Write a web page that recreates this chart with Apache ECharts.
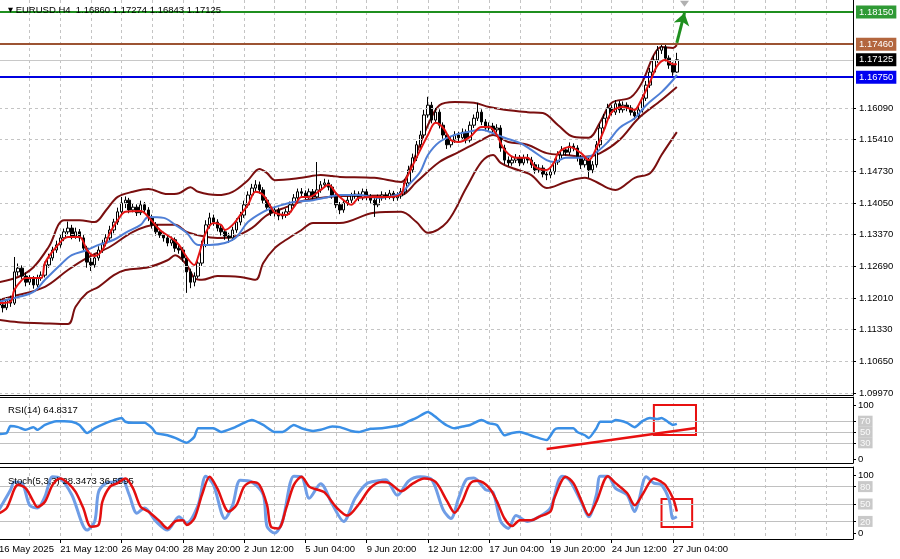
<!DOCTYPE html>
<html><head><meta charset="utf-8">
<script src="https://cdn.jsdelivr.net/npm/echarts@6/dist/echarts.min.js"></script>
<style>html,body{margin:0;padding:0;background:#fff}#c{width:900px;height:559px}</style>
</head><body><div id="c"></div>
<script>
// ---------- DATA ----------
const slotCount = 224; // bar slots on the time axis (178 bars + empty shift area)
const tickLabels = ["16 May 2025","21 May 12:00","26 May 04:00","28 May 20:00","2 Jun 12:00","5 Jun 04:00","9 Jun 20:00","12 Jun 12:00","17 Jun 04:00","19 Jun 20:00","24 Jun 12:00","27 Jun 04:00"];
const priceTicks = [1.0997,1.1065,1.1133,1.1201,1.1269,1.1337,1.1405,1.1473,1.1541,1.1609];
const levelPrices = [1.1815, 1.1746, 1.17125, 1.1675];
const levelTexts = ["1.18150", "1.17460", "1.17125", "1.16750"];

const opens = [1.1197,1.1186,1.1180,1.1197,1.1190,1.1257,1.1265,1.1248,1.1235,1.1242,1.1229,1.1244,1.1250,1.1272,1.1287,1.1304,1.1315,1.1330,1.1343,1.1351,1.1334,1.1343,1.1330,1.1308,1.1278,1.1272,1.1287,1.1304,1.1319,1.1330,1.1347,1.1364,1.1386,1.1405,1.1411,1.1390,1.1396,1.1384,1.1401,1.1390,1.1373,1.1358,1.1343,1.1336,1.1330,1.1319,1.1326,1.1308,1.1304,1.1287,1.1257,1.1235,1.1248,1.1276,1.1315,1.1358,1.1373,1.1364,1.1351,1.1343,1.1334,1.1330,1.1347,1.1364,1.1379,1.1401,1.1422,1.1437,1.1444,1.1433,1.1411,1.1396,1.1384,1.1390,1.1377,1.1379,1.1386,1.1401,1.1416,1.1429,1.1426,1.1420,1.1429,1.1418,1.1433,1.1444,1.1448,1.1439,1.1422,1.1401,1.1390,1.1405,1.1411,1.1420,1.1424,1.1416,1.1429,1.1418,1.1411,1.1401,1.1416,1.1422,1.1418,1.1426,1.1416,1.1420,1.1429,1.1448,1.1476,1.1502,1.1530,1.1551,1.1594,1.1615,1.1583,1.1600,1.1572,1.1551,1.1530,1.1540,1.1551,1.1545,1.1557,1.1540,1.1572,1.1587,1.1600,1.1579,1.1566,1.1570,1.1562,1.1566,1.1523,1.1497,1.1491,1.1497,1.1502,1.1491,1.1502,1.1497,1.1487,1.1476,1.1480,1.1467,1.1465,1.1472,1.1493,1.1508,1.1519,1.1514,1.1527,1.1523,1.1502,1.1487,1.1497,1.1476,1.1487,1.1530,1.1566,1.1587,1.1609,1.1600,1.1618,1.1605,1.1615,1.1609,1.1600,1.1592,1.1605,1.1630,1.1658,1.1686,1.1712,1.1733,1.1740,1.1716,1.1701,1.1686];
const closes = [1.1186,1.1180,1.1197,1.1190,1.1257,1.1265,1.1248,1.1235,1.1242,1.1229,1.1244,1.1250,1.1272,1.1287,1.1304,1.1315,1.1330,1.1343,1.1351,1.1334,1.1343,1.1330,1.1308,1.1278,1.1272,1.1287,1.1304,1.1319,1.1330,1.1347,1.1364,1.1386,1.1405,1.1411,1.1390,1.1396,1.1384,1.1401,1.1390,1.1373,1.1358,1.1343,1.1336,1.1330,1.1319,1.1326,1.1308,1.1304,1.1287,1.1257,1.1235,1.1248,1.1276,1.1315,1.1358,1.1373,1.1364,1.1351,1.1343,1.1334,1.1330,1.1347,1.1364,1.1379,1.1401,1.1422,1.1437,1.1444,1.1433,1.1411,1.1396,1.1384,1.1390,1.1377,1.1379,1.1386,1.1401,1.1416,1.1429,1.1426,1.1420,1.1429,1.1418,1.1433,1.1444,1.1448,1.1439,1.1422,1.1401,1.1390,1.1405,1.1411,1.1420,1.1424,1.1416,1.1429,1.1418,1.1411,1.1401,1.1416,1.1422,1.1418,1.1426,1.1416,1.1420,1.1429,1.1448,1.1476,1.1502,1.1530,1.1551,1.1594,1.1615,1.1583,1.1600,1.1572,1.1551,1.1530,1.1540,1.1551,1.1545,1.1557,1.1540,1.1572,1.1587,1.1600,1.1579,1.1566,1.1570,1.1562,1.1566,1.1523,1.1497,1.1491,1.1497,1.1502,1.1491,1.1502,1.1497,1.1487,1.1476,1.1480,1.1467,1.1465,1.1472,1.1493,1.1508,1.1519,1.1514,1.1527,1.1523,1.1502,1.1487,1.1497,1.1476,1.1487,1.1530,1.1566,1.1587,1.1609,1.1600,1.1618,1.1605,1.1615,1.1609,1.1600,1.1592,1.1605,1.1630,1.1658,1.1686,1.1712,1.1733,1.1740,1.1716,1.1701,1.1686,1.17125];
const highs = [1.1205,1.1194,1.1203,1.1206,1.1289,1.1275,1.1271,1.1256,1.1250,1.1248,1.1251,1.1258,1.1279,1.1296,1.1311,1.1324,1.1338,1.1350,1.1365,1.1358,1.1352,1.1349,1.1336,1.1313,1.1287,1.1294,1.1312,1.1326,1.1338,1.1356,1.1371,1.1395,1.1418,1.1419,1.1416,1.1404,1.1402,1.1410,1.1407,1.1396,1.1380,1.1364,1.1350,1.1343,1.1336,1.1333,1.1331,1.1315,1.1310,1.1292,1.1264,1.1256,1.1284,1.1324,1.1368,1.1384,1.1380,1.1370,1.1358,1.1349,1.1341,1.1354,1.1372,1.1386,1.1410,1.1430,1.1446,1.1454,1.1451,1.1439,1.1417,1.1402,1.1397,1.1395,1.1386,1.1393,1.1408,1.1424,1.1436,1.1437,1.1432,1.1436,1.1435,1.1493,1.1452,1.1457,1.1455,1.1445,1.1428,1.1407,1.1412,1.1419,1.1427,1.1432,1.1430,1.1436,1.1435,1.1424,1.1417,1.1423,1.1430,1.1428,1.1433,1.1431,1.1428,1.1437,1.1456,1.1485,1.1511,1.1538,1.1560,1.1605,1.1633,1.1622,1.1609,1.1606,1.1578,1.1557,1.1548,1.1559,1.1558,1.1565,1.1563,1.1580,1.1595,1.1620,1.1606,1.1585,1.1578,1.1577,1.1574,1.1572,1.1530,1.1505,1.1506,1.1510,1.1508,1.1509,1.1510,1.1504,1.1493,1.1488,1.1486,1.1473,1.1480,1.1500,1.1516,1.1527,1.1525,1.1535,1.1533,1.1529,1.1508,1.1505,1.1502,1.1495,1.1538,1.1575,1.1596,1.1618,1.1615,1.1626,1.1624,1.1623,1.1621,1.1615,1.1607,1.1613,1.1638,1.1667,1.1695,1.1722,1.1742,1.1746,1.1745,1.1722,1.1707,1.17274];
const lows = [1.1178,1.1170,1.1175,1.1182,1.1186,1.1249,1.1242,1.1226,1.1229,1.1221,1.1224,1.1238,1.1245,1.1266,1.1281,1.1298,1.1309,1.1323,1.1336,1.1327,1.1328,1.1322,1.1301,1.1266,1.1259,1.1266,1.1281,1.1298,1.1312,1.1324,1.1340,1.1358,1.1380,1.1394,1.1383,1.1385,1.1377,1.1379,1.1382,1.1366,1.1350,1.1335,1.1330,1.1322,1.1312,1.1313,1.1300,1.1296,1.1279,1.1212,1.1222,1.1226,1.1243,1.1270,1.1310,1.1350,1.1356,1.1344,1.1335,1.1326,1.1319,1.1324,1.1341,1.1357,1.1373,1.1395,1.1416,1.1430,1.1425,1.1404,1.1388,1.1377,1.1376,1.1368,1.1370,1.1373,1.1380,1.1395,1.1410,1.1420,1.1413,1.1414,1.1411,1.1412,1.1427,1.1438,1.1432,1.1414,1.1394,1.1381,1.1384,1.1399,1.1405,1.1414,1.1409,1.1411,1.1411,1.1404,1.1375,1.1396,1.1410,1.1412,1.1413,1.1409,1.1410,1.1414,1.1423,1.1442,1.1470,1.1495,1.1523,1.1545,1.1588,1.1576,1.1577,1.1565,1.1543,1.1521,1.1524,1.1534,1.1538,1.1540,1.1533,1.1535,1.1566,1.1581,1.1572,1.1559,1.1560,1.1555,1.1556,1.1515,1.1488,1.1484,1.1485,1.1491,1.1484,1.1486,1.1490,1.1480,1.1468,1.1470,1.1460,1.1454,1.1458,1.1466,1.1487,1.1501,1.1507,1.1508,1.1516,1.1494,1.1478,1.1481,1.1459,1.1469,1.1481,1.1524,1.1560,1.1581,1.1593,1.1594,1.1598,1.1599,1.1602,1.1593,1.1584,1.1586,1.1599,1.1624,1.1652,1.1680,1.1706,1.1725,1.1709,1.1693,1.1678,1.16843];

// moving averages and bands: [bar index, price]
const fastMA = [[0,1.1190],[3,1.1193],[4,1.1218],[6,1.1240],[7,1.1244],[11,1.1244],[12,1.1276],[15,1.1311],[18,1.1332],[21,1.1332],[23,1.1304],[25,1.1291],[27,1.1304],[29,1.1341],[31,1.1368],[33,1.1386],[37,1.1388],[39,1.1375],[42,1.1347],[45,1.1330],[47,1.1315],[49,1.1289],[51,1.1272],[52,1.1289],[54,1.1341],[56,1.1362],[58,1.1358],[59,1.1347],[61,1.1358],[63,1.1379],[65,1.1401],[67,1.1429],[69,1.1422],[71,1.1396],[72,1.1384],[75,1.1379],[77,1.1396],[79,1.1418],[81,1.1418],[84,1.1433],[86,1.1444],[88,1.1426],[90,1.1411],[92,1.1401],[94,1.1416],[98,1.1418],[102,1.1418],[105,1.1424],[106,1.1450],[109,1.1502],[112,1.1551],[114,1.1577],[116,1.1566],[118,1.1540],[120,1.1536],[123,1.1547],[126,1.1568],[128,1.1568],[130,1.1551],[132,1.1519],[135,1.1502],[138,1.1502],[140,1.1482],[143,1.1476],[145,1.1493],[146,1.1512],[149,1.1525],[152,1.1512],[154,1.1497],[156,1.1523],[158,1.1562],[160,1.1600],[163,1.1611],[166,1.1605],[167,1.1615],[170,1.1665],[172,1.1701],[174,1.1712],[176,1.1703],[177,1.1703]];
const slowMA = [[0,1.1193],[5,1.1203],[9,1.1214],[12,1.1240],[16,1.1272],[19,1.1293],[23,1.1304],[26,1.1315],[30,1.1326],[33,1.1341],[37,1.1358],[39,1.1375],[43,1.1373],[46,1.1358],[49,1.1341],[52,1.1315],[55,1.1315],[59,1.1319],[62,1.1332],[65,1.1364],[69,1.1386],[72,1.1396],[77,1.1407],[82,1.1411],[85,1.1416],[89,1.1422],[94,1.1422],[99,1.1416],[105,1.1426],[107,1.1444],[110,1.1472],[112,1.1508],[115,1.1536],[119,1.1551],[122,1.1557],[126,1.1562],[129,1.1555],[132,1.1545],[136,1.1534],[139,1.1519],[143,1.1497],[145,1.1493],[148,1.1502],[152,1.1502],[155,1.1508],[159,1.1536],[162,1.1566],[166,1.1587],[169,1.1615],[173,1.1643],[176,1.1669],[177,1.1680]];
const bandUpper = [[0,1.1235],[5,1.1246],[9,1.1267],[13,1.1311],[17,1.1368],[21,1.1368],[25,1.1364],[28,1.1390],[31,1.1418],[35,1.1429],[39,1.1435],[44,1.1424],[47,1.1426],[50,1.1439],[52,1.1429],[57,1.1422],[61,1.1429],[65,1.1454],[68,1.1478],[70,1.1469],[72,1.1454],[79,1.1459],[84,1.1465],[87,1.1463],[89,1.1461],[98,1.1459],[105,1.1450],[108,1.1493],[112,1.1572],[115,1.1615],[119,1.1622],[124,1.1620],[128,1.1611],[132,1.1605],[138,1.1600],[142,1.1598],[146,1.1572],[150,1.1547],[154,1.1545],[157,1.1579],[160,1.1620],[165,1.1632],[168,1.1665],[171,1.1723],[173,1.1740],[176,1.1738],[177,1.1744]];
const bandMiddle = [[0,1.1197],[3,1.1203],[12,1.1225],[18,1.1261],[23,1.1287],[29,1.1311],[35,1.1343],[41,1.1358],[46,1.1358],[49,1.1343],[53,1.1334],[57,1.1330],[61,1.1332],[66,1.1351],[70,1.1379],[75,1.1396],[80,1.1411],[86,1.1418],[90,1.1420],[105,1.1422],[109,1.1450],[115,1.1493],[120,1.1514],[126,1.1540],[129,1.1551],[133,1.1536],[138,1.1530],[143,1.1512],[148,1.1508],[153,1.1504],[157,1.1512],[162,1.1540],[167,1.1587],[173,1.1626],[177,1.1654]];
const bandLower = [[0,1.1154],[5,1.1149],[11,1.1147],[18,1.1145],[20,1.1182],[23,1.1212],[26,1.1225],[30,1.1250],[33,1.1261],[39,1.1267],[44,1.1282],[46,1.1293],[49,1.1272],[51,1.1244],[53,1.1240],[57,1.1248],[63,1.1246],[67,1.1240],[69,1.1276],[72,1.1308],[75,1.1326],[79,1.1347],[82,1.1362],[89,1.1362],[98,1.1384],[105,1.1386],[109,1.1364],[112,1.1341],[117,1.1364],[122,1.1437],[126,1.1493],[129,1.1508],[131,1.1491],[134,1.1480],[139,1.1465],[143,1.1437],[148,1.1450],[153,1.1459],[156,1.1450],[159,1.1437],[161,1.1433],[166,1.1459],[170,1.1469],[173,1.1508],[177,1.1557]];

const rsi = [[0,46],[2,48],[3,61],[5,59],[7,54],[9,59],[10,54],[12,63],[15,70],[17,70],[19,69],[21,63],[23,48],[25,57],[28,67],[30,72],[32,76],[33,69],[35,67],[38,67],[40,57],[41,48],[44,44],[46,39],[49,30],[51,41],[52,57],[56,57],[58,50],[61,57],[64,67],[66,72],[69,63],[72,50],[74,50],[77,63],[79,57],[82,52],[84,54],[87,60],[89,59],[92,52],[94,50],[97,56],[100,57],[103,60],[105,63],[107,70],[109,76],[112,87],[114,78],[115,72],[117,62],[119,57],[121,60],[123,63],[126,72],[128,66],[130,63],[132,44],[134,48],[136,50],[138,46],[140,41],[143,35],[145,54],[146,57],[148,57],[150,57],[151,50],[153,44],[154,39],[156,57],[157,69],[160,69],[161,72],[164,67],[166,59],[168,70],[170,76],[172,74],[173,76],[175,67],[176,63],[177,65]];
const stochK = [[0,40],[3,74],[4,88],[6,86],[8,48],[10,43],[12,63],[14,97],[16,94],[19,66],[23,5],[25,20],[26,71],[28,86],[30,88],[32,94],[34,66],[36,34],[38,43],[41,20],[44,5],[47,28],[49,17],[52,48],[54,98],[56,83],[59,25],[61,48],[63,91],[66,88],[69,66],[70,11],[72,0],[74,20],[77,98],[79,97],[81,60],[84,85],[87,50],[90,20],[93,60],[96,85],[99,90],[101,92],[104,65],[107,90],[110,97],[113,92],[116,40],[118,25],[120,60],[122,92],[124,95],[127,75],[129,70],[131,20],[133,8],[135,30],[138,20],[141,28],[144,43],[146,88],[147,98],[149,91],[152,54],[154,28],[156,66],[157,98],[159,98],[161,77],[164,66],[166,37],[167,54],[169,97],[171,86],[173,83],[175,57],[176,25],[177,28]];
const stochD = [[0,34],[2,43],[5,83],[7,77],[9,54],[10,45],[12,54],[14,83],[16,94],[18,86],[20,71],[22,43],[24,11],[26,14],[27,54],[29,80],[31,86],[33,94],[35,77],[37,45],[39,37],[42,20],[44,8],[46,20],[48,22],[49,14],[51,25],[53,66],[55,97],[57,77],[60,37],[62,48],[64,80],[66,88],[68,83],[70,48],[71,11],[73,8],[75,43],[77,83],[79,97],[81,80],[83,75],[85,70],[88,45],[91,30],[94,50],[97,78],[100,88],[102,86],[105,72],[108,85],[111,94],[114,88],[117,55],[119,35],[121,55],[123,85],[125,90],[128,78],[130,55],[132,25],[134,12],[136,22],[139,22],[141,28],[144,37],[145,60],[148,97],[150,86],[152,57],[154,31],[156,54],[159,98],[161,86],[164,69],[166,48],[168,66],[171,94],[173,88],[174,83],[176,60],[177,37]];

// ---------- CHART ----------
const FONT = 'Liberation Sans';
const categories = Array.from({length: slotCount}, (_, i) => String(i));
const candles = opens.map((o, i) => [o, closes[i], lows[i], highs[i]]);
const isLabelTick = (i) => i % 16 === 0 && i <= 176;
const gridLineStyle = {color: '#c4c4c4', type: [3, 3], width: 1};

function xAxisFor(gi, bottom) {
  return {
    type: 'category', gridIndex: gi, data: categories, boundaryGap: false, position: 'bottom',
    axisLine: {show: true, onZero: false, lineStyle: {color: '#000', width: 1}},
    axisTick: {show: bottom, interval: isLabelTick, length: 4, lineStyle: {color: '#000'}},
    axisLabel: {show: bottom, interval: isLabelTick, formatter: (v, i) => tickLabels[i / 16] || '',
      align: 'left', margin: 5, fontSize: 9.5, color: '#000', fontFamily: FONT},
    splitLine: {show: true, interval: (i) => i % 8 === 0, lineStyle: gridLineStyle}
  };
}
function topBorder(gi) {
  return {type: 'category', gridIndex: gi, position: 'top', data: categories, boundaryGap: false,
    axisLine: {show: true, onZero: false, lineStyle: {color: '#000', width: 1}}, axisTick: {show: false},
    axisLabel: {show: false}, splitLine: {show: false}};
}
const boxRich = {
  p: {color: '#000', fontSize: 9.5, fontFamily: FONT},
  b: {color: '#fafafa', backgroundColor: '#c9c9c9', fontSize: 9.5, fontFamily: FONT, padding: [1, 2, 0, 2]}
};
function levelAxis(gi, min, max, vals, boxed) {
  return {
    type: 'value', gridIndex: gi, position: 'right', min: min, max: max,
    axisLine: {show: true, onZero: false, lineStyle: {color: '#000'}},
    axisTick: {show: true, customValues: vals, length: 3, lineStyle: {color: '#000'}},
    axisLabel: {customValues: vals, margin: 5, rich: boxRich,
      formatter: (v) => boxed.indexOf(v) >= 0 ? '{b|' + v + '}' : '{p|' + v + '}'},
    splitLine: {show: false}
  };
}
function levels(vals) {
  return {silent: true, precision: 6, symbol: ['none', 'none'], label: {show: false},
    lineStyle: {color: '#c0c0c0', type: 'solid', width: 1},
    data: vals.map(v => ({yAxis: v}))};
}
// one horizontal price level with its price tag on the axis
function levelSeries(k, lineColor, bg, width) {
  return {type: 'line', xAxisIndex: 0, yAxisIndex: 0, data: [], silent: true, z: 2,
    markLine: {silent: true, precision: 6, symbol: ['none', 'none'],
      lineStyle: {color: lineColor, width: width, type: 'solid'},
      label: {show: true, position: 'end', formatter: levelTexts[k], distance: 3, color: '#fff',
        backgroundColor: bg, padding: [2, 3, 1, 3], fontSize: 9.5, fontFamily: FONT},
      data: [{yAxis: levelPrices[k]}]}};
}
const gridBase = {left: -1, width: 854, containLabel: false, outerBoundsMode: 'none'};

const chart = echarts.init(document.getElementById('c'), null, {renderer: 'canvas'});
chart.setOption({
  animation: false,
  backgroundColor: '#fff',
  title: [
    {left: 3, top: 0, text: '{t|▼} EURUSD.H4  1.16860 1.17274 1.16843 1.17125',
      textStyle: {fontSize: 9.5, fontWeight: 'normal', color: '#000', fontFamily: FONT,
        rich: {t: {fontSize: 6.5, color: '#000', fontFamily: 'DejaVu Sans'}}}},
    {left: 3, top: 400, text: 'RSI(14) 64.8317', textStyle: {fontSize: 9.5, fontWeight: 'normal', color: '#000', fontFamily: FONT}},
    {left: 3, top: 471, text: 'Stoch(5,3,3) 28.3473 36.5595', textStyle: {fontSize: 9.5, fontWeight: 'normal', color: '#000', fontFamily: FONT}}
  ],
  grid: [
    Object.assign({top: 0, height: 395}, gridBase),
    Object.assign({top: 397, height: 66}, gridBase),
    Object.assign({top: 467, height: 72}, gridBase)
  ],
  xAxis: [xAxisFor(0, false), xAxisFor(1, false), xAxisFor(2, true), topBorder(1), topBorder(2)],
  yAxis: [
    {type: 'value', gridIndex: 0, position: 'right', min: 1.09927, max: 1.18408,
      axisLine: {show: true, onZero: false, lineStyle: {color: '#000'}},
      axisTick: {show: true, customValues: priceTicks, length: 3, lineStyle: {color: '#000'}},
      axisLabel: {customValues: priceTicks, formatter: (v) => v.toFixed(5), margin: 6, fontSize: 9.5, color: '#000', fontFamily: FONT},
      splitLine: {show: false}},
    levelAxis(1, -7.4, 114.8, [0, 30, 50, 70, 100], [30, 50, 70]),
    levelAxis(2, -10.3, 113.8, [0, 20, 50, 80, 100], [20, 50, 80])
  ],
  series: [
    {type: 'line', xAxisIndex: 0, yAxisIndex: 0, data: [], silent: true, z: 1,
      markLine: {silent: true, precision: 6, symbol: ['none', 'none'], label: {show: false}, lineStyle: gridLineStyle,
        data: priceTicks.map(v => ({yAxis: v}))}},
    levelSeries(0, '#1f8f1f', '#2f9a35', 2),
    levelSeries(1, '#9c5333', '#b3663e', 2),
    levelSeries(2, '#c8c8c8', '#000000', 1),
    levelSeries(3, '#0000e0', '#0000f0', 2),
    {type: 'line', name: 'bandUpper', xAxisIndex: 0, yAxisIndex: 0, data: bandUpper, smooth: 0.35, showSymbol: false, lineStyle: {color: '#7a0f0f', width: 2}, z: 3},
    {type: 'line', name: 'bandMiddle', xAxisIndex: 0, yAxisIndex: 0, data: bandMiddle, smooth: 0.35, showSymbol: false, lineStyle: {color: '#7a0f0f', width: 2}, z: 3},
    {type: 'line', name: 'bandLower', xAxisIndex: 0, yAxisIndex: 0, data: bandLower, smooth: 0.35, showSymbol: false, lineStyle: {color: '#7a0f0f', width: 2}, z: 3},
    {type: 'candlestick', xAxisIndex: 0, yAxisIndex: 0, data: candles, barWidth: 3, z: 4,
      itemStyle: {color: '#ffffff', color0: '#000000', borderColor: '#000000', borderColor0: '#000000', borderWidth: 1}},
    {type: 'line', xAxisIndex: 0, yAxisIndex: 0, data: [], silent: true, z: 8,
      markLine: {silent: true, precision: 6, symbol: ['none', 'arrow'], symbolSize: 12, label: {show: false},
        lineStyle: {color: '#1f8f1f', width: 3, type: 'solid'},
        data: [[{coord: [177.3, 1.1749]}, {coord: [178.9, 1.1813]}]]},
      markPoint: {silent: true, data: [{coord: [178.5, 1.1833], symbol: 'triangle', symbolRotate: 180, symbolSize: [9, 6], itemStyle: {color: '#b0b0b0'}, label: {show: false}}]}},
    {type: 'line', name: 'slowMA', xAxisIndex: 0, yAxisIndex: 0, data: slowMA, smooth: 0.35, showSymbol: false, lineStyle: {color: '#4f7fd6', width: 2}, z: 5},
    {type: 'line', name: 'fastMA', xAxisIndex: 0, yAxisIndex: 0, data: fastMA, smooth: 0.35, showSymbol: false, lineStyle: {color: '#e31515', width: 2}, z: 6},

    {type: 'line', name: 'RSI', xAxisIndex: 1, yAxisIndex: 1, data: rsi, smooth: 0.2, showSymbol: false, lineStyle: {color: '#3a8fe6', width: 2.5}, z: 5,
      markLine: levels([30, 50, 70])},
    {type: 'line', xAxisIndex: 1, yAxisIndex: 1, data: [], z: 6,
      markLine: {silent: true, precision: 6, symbol: ['none', 'none'], label: {show: false}, lineStyle: {color: '#e81010', width: 2.5, type: 'solid'},
        data: [[{coord: [143.3, 18.5]}, {coord: [182.2, 57.4]}]]},
      markArea: {silent: true, itemStyle: {color: 'rgba(0,0,0,0)', borderColor: '#e81010', borderWidth: 2},
        data: [[{coord: [170.5, 100]}, {coord: [182.2, 44.4]}]]}},

    {type: 'line', name: '%K', xAxisIndex: 2, yAxisIndex: 2, data: stochK, smooth: 0.3, showSymbol: false, lineStyle: {color: '#6f9de6', width: 3}, z: 5,
      markLine: levels([20, 50, 80])},
    {type: 'line', name: '%D', xAxisIndex: 2, yAxisIndex: 2, data: stochD, smooth: 0.3, showSymbol: false, lineStyle: {color: '#e30f0f', width: 2.5}, z: 6,
      markArea: {silent: true, itemStyle: {color: 'rgba(0,0,0,0)', borderColor: '#e81010', borderWidth: 2},
        data: [[{coord: [173.4, 58.6]}, {coord: [181.2, 10.3]}]]}}
  ]
});
</script>
</body></html>
